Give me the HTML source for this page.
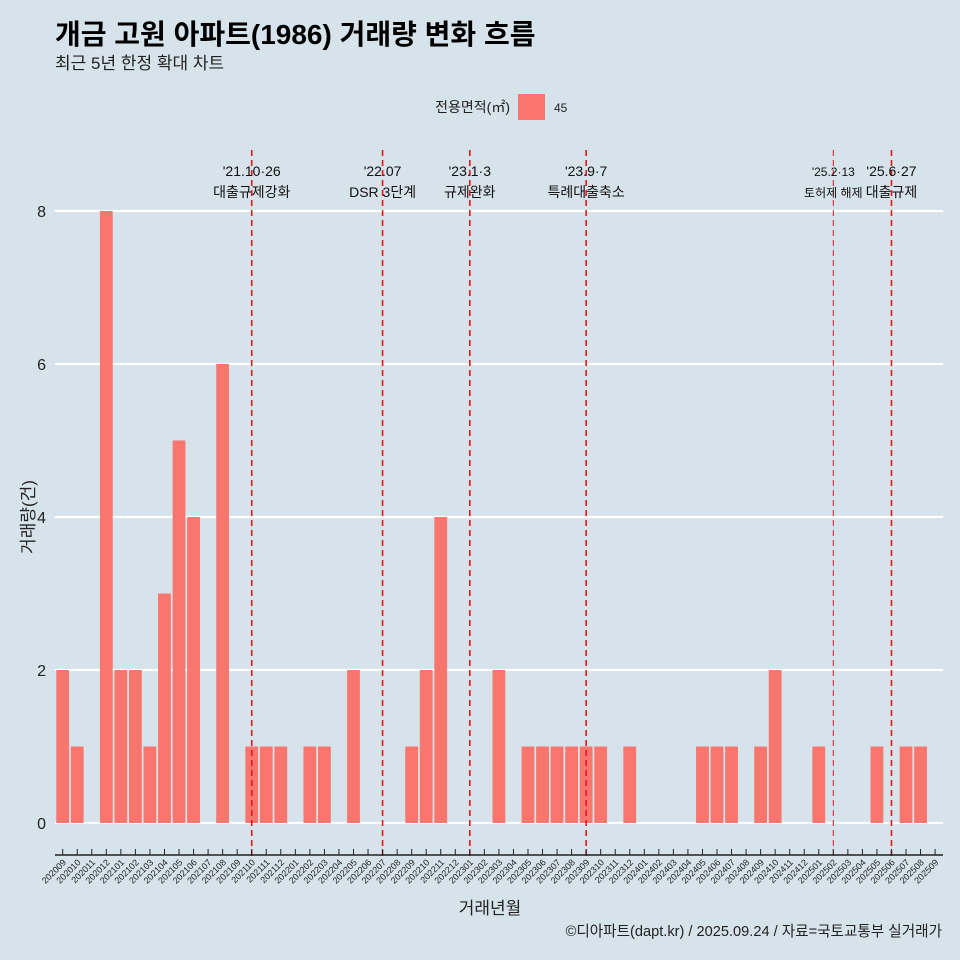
<!DOCTYPE html>
<html><head><meta charset="utf-8"><style>
body{margin:0;background:#d6e3ea;}
svg{display:block;font-family:"Liberation Sans","Noto Sans CJK KR",sans-serif;}
</style></head><body>
<svg id="chart" width="960" height="960">
<rect width="960" height="960" fill="#d6e3ea"/>
<text x="55" y="44" font-size="28" font-weight="bold" fill="#000">개금 고원 아파트(1986) 거래량 변화 흐름</text>
<text x="55" y="69" font-size="17" fill="#222">최근 5년 한정 확대 차트</text>
<text x="510" y="112" font-size="14" text-anchor="end" fill="#222">전용면적(㎡)</text>
<rect x="518" y="94" width="27" height="26" fill="#f8766d"/>
<text x="554" y="112" font-size="12" fill="#222">45</text>
<g id="grid"></g><g id="bars"></g><g id="events"></g><g id="axes"></g>
<text x="490" y="914" font-size="17" text-anchor="middle" fill="#222">거래년월</text>
<text transform="translate(34,517) rotate(-90)" font-size="17" text-anchor="middle" fill="#222">거래량(건)</text>
<text x="942" y="936" font-size="14.6" text-anchor="end" fill="#222">©디아파트(dapt.kr) / 2025.09.24 / 자료=국토교통부 실거래가</text>
</svg>
<script>
const months=["202009","202010","202011","202012","202101","202102","202103","202104","202105","202106","202107","202108","202109","202110","202111","202112","202201","202202","202203","202204","202205","202206","202207","202208","202209","202210","202211","202212","202301","202302","202303","202304","202305","202306","202307","202308","202309","202310","202311","202312","202401","202402","202403","202404","202405","202406","202407","202408","202409","202410","202411","202412","202501","202502","202503","202504","202505","202506","202507","202508","202509"];
const counts=[2,1,0,8,2,2,1,3,5,4,0,6,0,1,1,1,0,1,1,0,2,0,0,0,1,2,4,0,0,0,2,0,1,1,1,1,1,1,0,1,0,0,0,0,1,1,1,0,1,2,0,0,1,0,0,0,1,0,1,1,0];
const yTicks=[0,2,4,6,8];
const eventMonths=["202110","202207","202301","202309","202502","202506"];
const eventDates=["'21.10·26","'22.07","'23.1·3","'23.9·7","'25.2·13","'25.6·27"];
const eventLabels=["대출규제강화","DSR 3단계","규제완화","특례대출축소","토허제 해제","대출규제"];
const NS="http://www.w3.org/2000/svg";
const x0=62.7,step=14.54,yBase=823,yUnit=76.5;
const xs=i=>x0+i*step, ys=v=>yBase-v*yUnit;
function mk(tag,attrs,parent){const e=document.createElementNS(NS,tag);for(const k in attrs)e.setAttribute(k,attrs[k]);parent.appendChild(e);return e;}
const grid=document.getElementById('grid'),bars=document.getElementById('bars'),ev=document.getElementById('events'),ax=document.getElementById('axes');
yTicks.forEach(t=>{
 const l=mk('line',{x1:55,x2:943,y1:ys(t),y2:ys(t),stroke:'#fff','stroke-width':2.2},grid);
 
 
 const tx=mk('text',{x:46,y:ys(t)+6,'font-size':16,'text-anchor':'end',fill:'#222'},grid);
 tx.textContent=t;
 
 
});
counts.forEach((v,i)=>{
 if(v<=0)return;
 const r=mk('rect',{x:xs(i)-6.4,y:ys(v),width:12.8,height:v*yUnit,fill:'#f8766d'},bars);
 
 
});
const axl=mk('line',{x1:55,x2:943,y1:855,y2:855,stroke:'#222','stroke-width':1.5},ax);


months.forEach((m,i)=>{
 const x=xs(i);
 const t=mk('line',{x1:x,x2:x,y1:855,y2:849,stroke:'#222','stroke-width':1},ax);
 
 
 const tx=mk('text',{'font-size':9,'text-anchor':'end',fill:'#222',transform:`translate(${x+4},${863}) rotate(-45)`},ax);
 tx.textContent=m;
 
 
});
eventMonths.forEach((m,k)=>{
 const x=xs(months.indexOf(m));
 const thin=m==="202502";
 const l=mk('line',{x1:x,x2:x,y1:150,y2:856,stroke:'#e8141e','stroke-width':thin?1:1.6,'stroke-dasharray':'6,4'},ev);
 
 
 const fs=thin?12:14;
 const d=mk('text',{x:x,y:176,'font-size':fs,'text-anchor':'middle',fill:'#111'},ev);
 d.textContent=eventDates[k];
 
 
 const lb=mk('text',{x:x,y:197,'font-size':fs,'text-anchor':'middle',fill:'#111'},ev);
 lb.textContent=eventLabels[k];
 
 
});
</script>
</body></html>
